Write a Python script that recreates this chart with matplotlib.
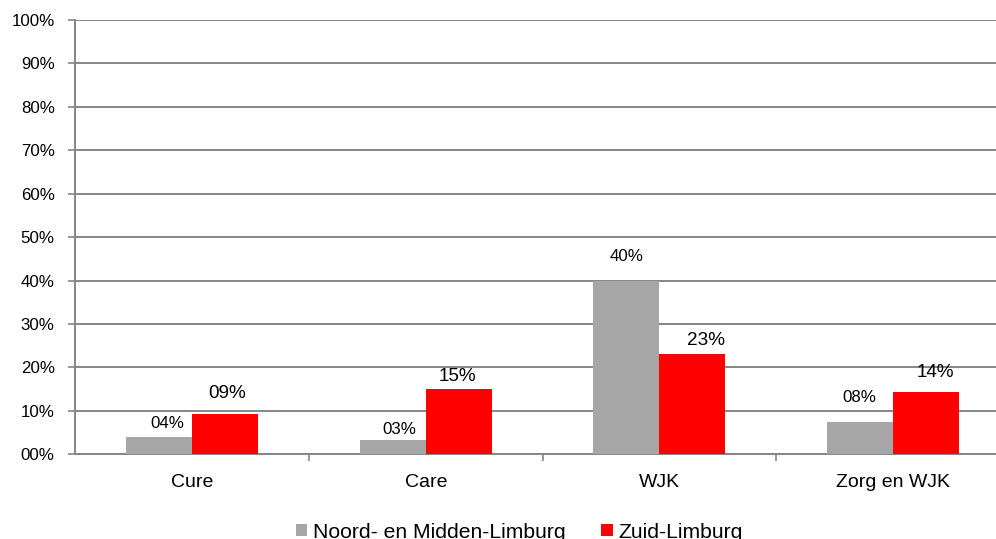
import matplotlib
matplotlib.use("Agg")
import matplotlib.pyplot as plt
from matplotlib.ticker import FuncFormatter, FixedLocator
import numpy as np

# Data
categories = ["Cure", "Care", "WJK", "Zorg en WJK"]
noord_midden = [4.1, 3.3, 39.9, 7.5]
zuid = [9.2, 15.0, 23.2, 14.4]
series_names = ["Noord- en Midden-Limburg", "Zuid-Limburg"]

# label offsets (points) as Excel placed them
gray_offsets = [(6, 4), (5, 2), (0, 12), (0, 12)]
red_offsets = [(1, 9), (-1, 3), (10, 3), (7, 8)]

GRAY = "#A6A6A6"
RED = "#FF0000"
LINE = "#868686"

plt.rcParams["font.family"] = ["Liberation Sans", "DejaVu Sans"]

fig = plt.figure(figsize=(9.96, 5.39), dpi=100)
ax = fig.add_axes([0.0758, 0.1571, 0.9378, 0.8058])

x = np.arange(len(categories))
w = 0.283
b1 = ax.bar(x - w / 2, noord_midden, w, color=GRAY, label=series_names[0], zorder=3)
b2 = ax.bar(x + w / 2, zuid, w, color=RED, label=series_names[1], zorder=3)

for rect, v, (dx, dy) in zip(b1, noord_midden, gray_offsets):
    ax.annotate(f"{round(v):02d}%", (rect.get_x() + rect.get_width() / 2, v),
                xytext=(dx, dy), textcoords="offset points",
                ha="center", va="bottom", fontsize=12.2, color="black")
for rect, v, (dx, dy) in zip(b2, zuid, red_offsets):
    ax.annotate(f"{round(v):02d}%", (rect.get_x() + rect.get_width() / 2, v),
                xytext=(dx, dy), textcoords="offset points",
                ha="center", va="bottom", fontsize=13.6, color="black")

ax.set_xlim(-0.5, len(categories) - 0.5)
ax.set_ylim(0, 100)
ax.set_yticks(np.arange(0, 101, 10))
ax.yaxis.set_major_formatter(FuncFormatter(lambda v, p: f"{int(v):02d}%" if v < 100 else "100%"))
ax.tick_params(axis="y", direction="out", length=5, width=1.2, color=LINE,
               pad=10, labelsize=12.2)
ax.grid(axis="y", color=LINE, linewidth=1.4, zorder=0)

ax.set_xticks(x)
ax.set_xticklabels(categories)
ax.tick_params(axis="x", which="major", length=0, pad=14, labelsize=14)
ax.xaxis.set_minor_locator(FixedLocator(np.arange(0.5, len(categories) - 0.5, 1)))
ax.tick_params(axis="x", which="minor", direction="out", length=5, width=1.2, color=LINE)

for s in ["top", "right"]:
    ax.spines[s].set_visible(False)
for s in ["left", "bottom"]:
    ax.spines[s].set_color(LINE)
    ax.spines[s].set_linewidth(1.4)

fig.legend(loc="center", bbox_to_anchor=(519 / 996, 1 - 532 / 539), ncol=2,
           frameon=False, fontsize=15.2, handlelength=0.55, handleheight=0.55,
           handletextpad=0.25, columnspacing=1.7)

fig.savefig("out.png", dpi=100)
